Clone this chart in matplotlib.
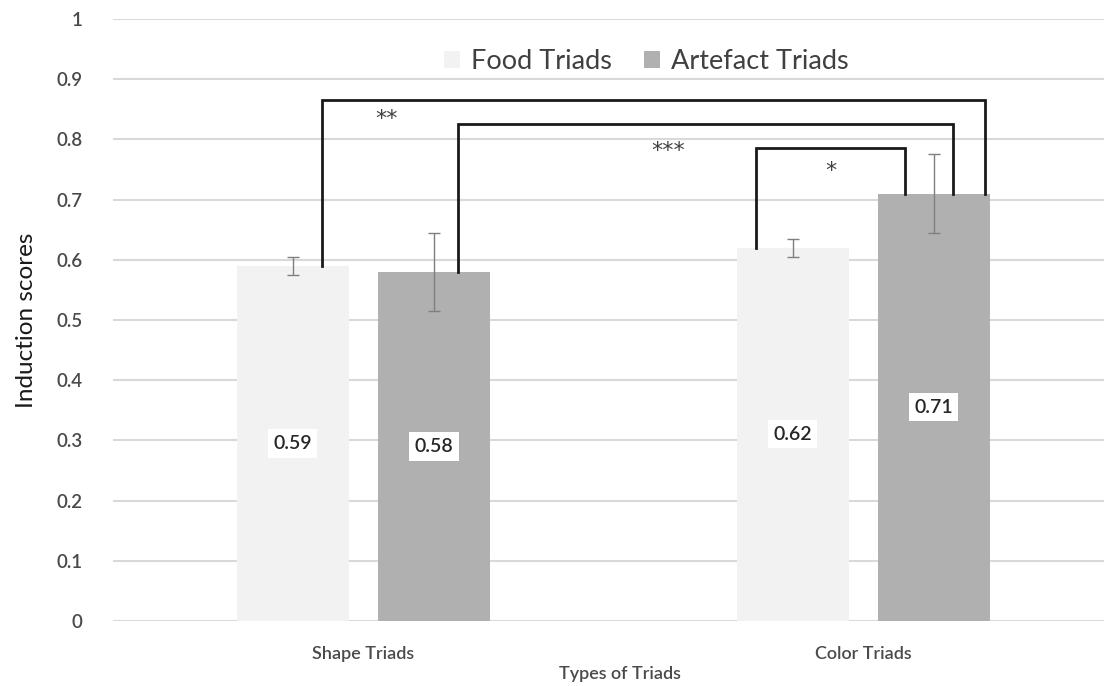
import matplotlib
matplotlib.use('Agg')
import numpy as np
from matplotlib import pyplot as plt

plt.rcParams['font.family'] = ['Lato', 'DejaVu Sans']

groups = ['Shape Triads', 'Color Triads']
series = ['Food Triads', 'Artefact Triads']
food = [0.59, 0.62]
artefact = [0.58, 0.71]
food_err = [0.015, 0.015]
artefact_err = [0.065, 0.065]
yticks = [0, 0.1, 0.2, 0.3, 0.4, 0.5, 0.6, 0.7, 0.8, 0.9, 1]
ytick_labels = ['0', '0.1', '0.2', '0.3', '0.4', '0.5', '0.6', '0.7', '0.8', '0.9', '1']

# significance brackets: leg x positions, top height, leg bases, star label
br_left = [-0.082, 0.19, 0.786]
br_right = [1.244, 1.18, 1.084]
br_top = [0.865, 0.826, 0.786]
br_left_base = [0.59, 0.58, 0.62]
br_right_base = [0.71, 0.71, 0.71]
br_label = ['**', '***', '*']
br_label_x = [0.046, 0.61, 0.936]
br_label_y = [0.833, 0.781, 0.747]

colors = ['#f2f2f2', '#b0b0b0']
text_col = '#4a4a4a'

fig = plt.figure(figsize=(11.04, 6.86), dpi=100)
ax = fig.add_axes([0.1024, 0.0948, 0.8976, 0.8776])

x = np.arange(len(groups))
w = 0.224
off = 0.141
ax.bar(x - off, food, w, color=colors[0], label=series[0], zorder=2)
ax.bar(x + off, artefact, w, color=colors[1], label=series[1], zorder=2)
ax.errorbar(x - off, food, yerr=food_err, fmt='none', ecolor='#7f7f7f',
            elinewidth=1, capsize=4, capthick=1, zorder=3)
ax.errorbar(x + off, artefact, yerr=artefact_err, fmt='none', ecolor='#7f7f7f',
            elinewidth=1, capsize=4, capthick=1, zorder=3)

for xs, vals in [(x - off, food), (x + off, artefact)]:
    for xi, v in zip(xs, vals):
        ax.text(xi, v / 2, f'{v:.2f}', ha='center', va='center', fontsize=14,
                color='#262626', fontweight='semibold', zorder=4,
                bbox=dict(facecolor='white', edgecolor='none', pad=4))

for i in range(len(br_top)):
    ax.plot([br_left[i], br_left[i], br_right[i], br_right[i]],
            [br_left_base[i], br_top[i], br_top[i], br_right_base[i]],
            color='#1a1a1a', lw=2, zorder=5, solid_joinstyle='miter')
    ax.text(br_label_x[i], br_label_y[i], br_label[i], ha='center', va='center',
            fontsize=16, color='#404040', family='DejaVu Sans', zorder=5)

ax.set_xlim(-0.5, 1.482)
ax.set_ylim(0, 1)
ax.set_yticks(yticks)
ax.set_yticklabels(ytick_labels)
ax.set_xticks(x)
ax.set_xticklabels(groups)
ax.grid(axis='y', color='#d9d9d9', lw=1.5, zorder=0)
ax.set_axisbelow(True)
for s in ax.spines.values():
    s.set_visible(False)
ax.tick_params(axis='y', length=0, labelsize=13.5, labelcolor=text_col, pad=22)
ax.tick_params(axis='x', length=0, labelsize=13, labelcolor=text_col, pad=18)
for lab in ax.get_yticklabels() + ax.get_xticklabels():
    lab.set_fontweight('semibold')
ax.set_ylabel('Induction scores', fontsize=17.5, color='#1a1a1a', labelpad=14)
ax.set_xlabel('Types of Triads', fontsize=13, color=text_col,
              fontweight='semibold')
ax.xaxis.set_label_coords(0.512, -0.075)

leg = ax.legend(loc='center', bbox_to_anchor=(0.538, 0.929), ncol=2, frameon=False,
                fontsize=19.5, handlelength=0.6, handleheight=0.6, handletextpad=0.4,
                columnspacing=1.2, labelcolor='#404040')

fig.savefig('out.png', dpi=100)
